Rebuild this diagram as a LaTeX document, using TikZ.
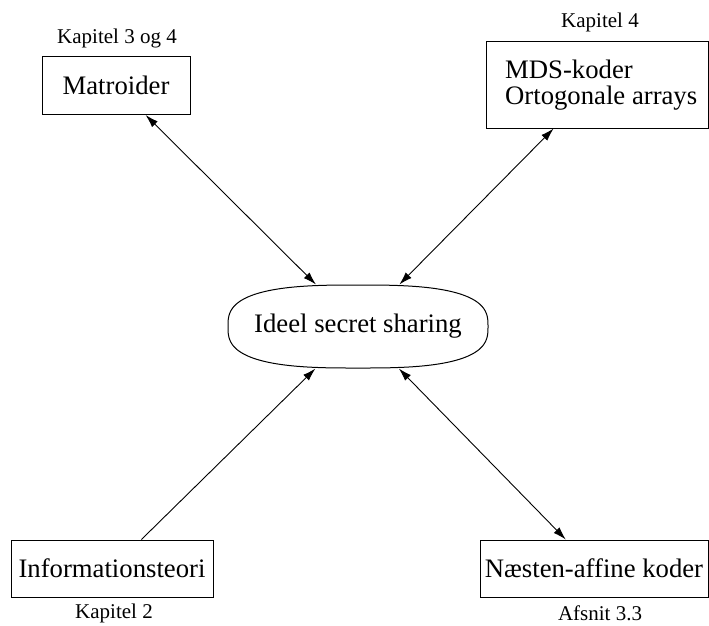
\documentclass[tikz,border=0pt]{standalone}
\usepackage{fontspec}
\setmainfont{Liberation Serif}
\usetikzlibrary{arrows.meta}
\begin{document}
\begin{tikzpicture}[x=1pt,y=-1pt,
  box/.style={draw,line width=1pt,inner sep=0pt,font=\fontsize{26.7}{26.5}\selectfont},
  big/.style={inner sep=0pt,font=\fontsize{26.7}{26.5}\selectfont},
  lbl/.style={inner sep=0pt,font=\fontsize{21}{24}\selectfont},
  tip/.tip={Latex[length=13pt,width=8pt]},
  both/.style={line width=0.9pt,tip-tip},
  one/.style={line width=0.9pt,-tip}
]
\useasboundingbox (0,0) rectangle (709,625);
\node[box,minimum width=148pt,minimum height=58pt] (mat) at (116,85.5) {Matroider};
\node[lbl] (lmat) at (117,38) {Kapitel 3 og 4};
\node[box,minimum width=222pt,minimum height=87pt] (mds) at (597,84.5) {};
\node[big,anchor=west,align=left] (mdstext) at (505,85) {MDS-koder\\Ortogonale arrays};
\node[lbl] (lmds) at (600,22) {Kapitel 4};
\node[box,draw=none,minimum width=260pt,minimum height=83pt] (ideel) at (358,326.5) {Ideel secret sharing};
\draw[line width=1pt] plot[domain=0:360,samples=181,smooth cycle]
  ({358+130*sign(cos(\x))*pow(abs(cos(\x)),0.7)},{326.5+41.5*sign(sin(\x))*pow(abs(sin(\x)),0.7)});
\node[box,minimum width=202pt,minimum height=57pt] (info) at (112,568.5) {Informationsteori};
\node[lbl] (linfo) at (114,613) {Kapitel 2};
\node[box,minimum width=228pt,minimum height=57pt] (naes) at (594,568.5) {Næsten-affine koder};
\node[lbl] (lnaes) at (600,613) {Afsnit 3.3};
\draw[both] (mat) -- (ideel);
\draw[both] (mds) -- (ideel);
\draw[one] (info) -- (ideel);
\draw[both] (naes) -- (ideel);
\end{tikzpicture}
\end{document}
